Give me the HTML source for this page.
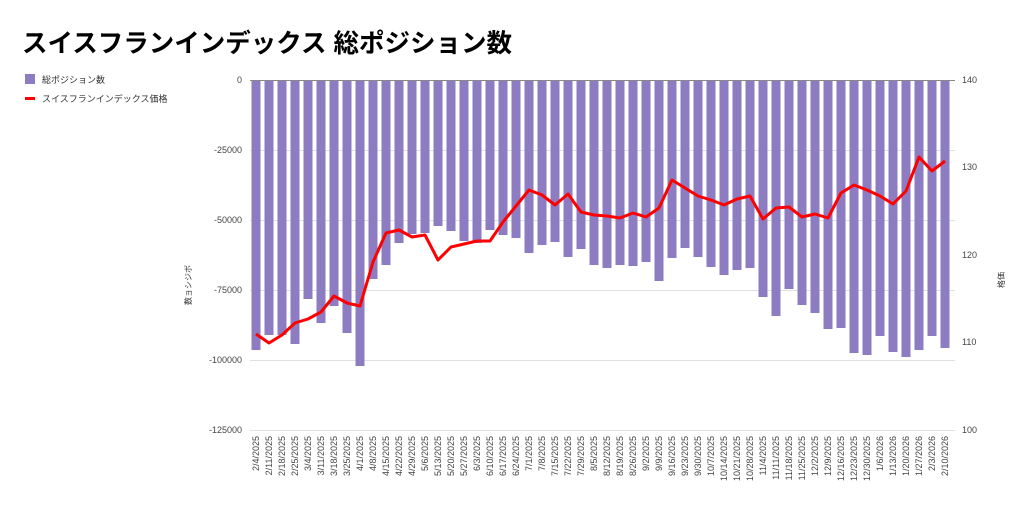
<!DOCTYPE html>
<html><head><meta charset="utf-8"><style>
body{margin:0;background:#fff;}
svg{display:block;font-family:"Liberation Sans","Noto Sans CJK JP",sans-serif;}
</style></head><body>
<svg width="1024" height="509" viewBox="0 0 1024 509">
<text x="22" y="52" font-size="25.5" font-weight="bold" fill="#000">スイスフランインデックス 総ポジション数</text>
<rect x="25" y="74" width="10" height="10" fill="#8e7cc3"/>
<text x="42" y="83" font-size="9" fill="#333">総ポジション数</text>
<rect x="25" y="97" width="10" height="3" fill="#f00"/>
<text x="42" y="102" font-size="9" fill="#333">スイスフランインデックス価格</text>
<g stroke="#e0e0e0" stroke-width="1">
<line x1="250" x2="955" y1="150.5" y2="150.5"/><line x1="250" x2="955" y1="220.5" y2="220.5"/><line x1="250" x2="955" y1="290.5" y2="290.5"/><line x1="250" x2="955" y1="360.5" y2="360.5"/><line x1="250" x2="955" y1="430.5" y2="430.5"/>
</g>
<g font-size="9" fill="#444" text-anchor="end">
<text x="242" y="83">0</text><text x="242" y="153">-25000</text><text x="242" y="223">-50000</text><text x="242" y="293">-75000</text><text x="242" y="363">-100000</text><text x="242" y="433">-125000</text>
</g>
<g font-size="9" fill="#444">
<text x="962" y="83">140</text><text x="962" y="170">130</text><text x="962" y="258">120</text><text x="962" y="345">110</text><text x="962" y="433">100</text>
</g>
<text transform="translate(191,285) rotate(-90)" font-size="8" fill="#333" text-anchor="middle">数ョシジボ</text>
<text transform="translate(1004,280) rotate(-90)" font-size="8" fill="#333" text-anchor="middle">格価</text>
<g fill="#8e7cc3">
<rect x="251.5" y="80" width="9" height="270"/><rect x="264.5" y="80" width="9" height="255"/><rect x="277.5" y="80" width="9" height="255"/><rect x="290.5" y="80" width="9" height="264"/><rect x="303.5" y="80" width="9" height="219"/><rect x="316.5" y="80" width="9" height="243"/><rect x="329.5" y="80" width="9" height="226"/><rect x="342.5" y="80" width="9" height="253"/><rect x="355.5" y="80" width="9" height="286"/><rect x="368.5" y="80" width="9" height="199"/><rect x="381.5" y="80" width="9" height="185"/><rect x="394.5" y="80" width="9" height="163"/><rect x="407.5" y="80" width="9" height="154"/><rect x="420.5" y="80" width="9" height="153"/><rect x="433.5" y="80" width="9" height="146"/><rect x="446.5" y="80" width="9" height="151"/><rect x="459.5" y="80" width="9" height="161"/><rect x="472.5" y="80" width="9" height="163"/><rect x="485.5" y="80" width="9" height="150"/><rect x="498.5" y="80" width="9" height="155"/><rect x="511.5" y="80" width="9" height="158"/><rect x="524.5" y="80" width="9" height="173"/><rect x="537.5" y="80" width="9" height="165"/><rect x="550.5" y="80" width="9" height="162"/><rect x="563.5" y="80" width="9" height="177"/><rect x="576.5" y="80" width="9" height="169"/><rect x="589.5" y="80" width="9" height="185"/><rect x="602.5" y="80" width="9" height="188"/><rect x="615.5" y="80" width="9" height="185"/><rect x="628.5" y="80" width="9" height="186"/><rect x="641.5" y="80" width="9" height="182"/><rect x="654.5" y="80" width="9" height="201"/><rect x="667.5" y="80" width="9" height="178"/><rect x="680.5" y="80" width="9" height="168"/><rect x="693.5" y="80" width="9" height="177"/><rect x="706.5" y="80" width="9" height="187"/><rect x="719.5" y="80" width="9" height="195"/><rect x="732.5" y="80" width="9" height="190"/><rect x="745.5" y="80" width="9" height="188"/><rect x="758.5" y="80" width="9" height="217"/><rect x="771.5" y="80" width="9" height="236"/><rect x="784.5" y="80" width="9" height="209"/><rect x="797.5" y="80" width="9" height="225"/><rect x="810.5" y="80" width="9" height="233"/><rect x="823.5" y="80" width="9" height="249"/><rect x="836.5" y="80" width="9" height="248"/><rect x="849.5" y="80" width="9" height="273"/><rect x="862.5" y="80" width="9" height="275"/><rect x="875.5" y="80" width="9" height="256"/><rect x="888.5" y="80" width="9" height="272"/><rect x="901.5" y="80" width="9" height="277"/><rect x="914.5" y="80" width="9" height="270"/><rect x="927.5" y="80" width="9" height="256"/><rect x="940.5" y="80" width="9" height="268"/>
</g>
<line x1="250" x2="955" y1="80.5" y2="80.5" stroke="#888" stroke-width="1"/>
<polyline fill="none" stroke="#f00" stroke-width="3" stroke-linejoin="round" points="256,334 269,343 282,335 295,323 308,319 321,312 334,296 347,303 360,306 373,262 386,233 399,230 412,237 425,235 438,260 451,247 464,244 477,241 490,241 503,222 516,206 529,190 542,195 555,205 568,194 581,212 594,215 607,216 620,218 633,213 646,217 659,208 672,180 685,188 698,196 711,200 724,205 737,199 750,196 763,219 776,208 789,207 802,217 815,214 828,218 841,193 854,185 867,190 880,196 893,204 906,191 919,157 932,171 945,161"/>
<g font-size="9" fill="#444" text-anchor="end">
<text transform="translate(259,436) rotate(-90)">2/4/2025</text><text transform="translate(272,436) rotate(-90)">2/11/2025</text><text transform="translate(285,436) rotate(-90)">2/18/2025</text><text transform="translate(298,436) rotate(-90)">2/25/2025</text><text transform="translate(311,436) rotate(-90)">3/4/2025</text><text transform="translate(324,436) rotate(-90)">3/11/2025</text><text transform="translate(337,436) rotate(-90)">3/18/2025</text><text transform="translate(350,436) rotate(-90)">3/25/2025</text><text transform="translate(363,436) rotate(-90)">4/1/2025</text><text transform="translate(376,436) rotate(-90)">4/8/2025</text><text transform="translate(389,436) rotate(-90)">4/15/2025</text><text transform="translate(402,436) rotate(-90)">4/22/2025</text><text transform="translate(415,436) rotate(-90)">4/29/2025</text><text transform="translate(428,436) rotate(-90)">5/6/2025</text><text transform="translate(441,436) rotate(-90)">5/13/2025</text><text transform="translate(454,436) rotate(-90)">5/20/2025</text><text transform="translate(467,436) rotate(-90)">5/27/2025</text><text transform="translate(480,436) rotate(-90)">6/3/2025</text><text transform="translate(493,436) rotate(-90)">6/10/2025</text><text transform="translate(506,436) rotate(-90)">6/17/2025</text><text transform="translate(519,436) rotate(-90)">6/24/2025</text><text transform="translate(532,436) rotate(-90)">7/1/2025</text><text transform="translate(545,436) rotate(-90)">7/8/2025</text><text transform="translate(558,436) rotate(-90)">7/15/2025</text><text transform="translate(571,436) rotate(-90)">7/22/2025</text><text transform="translate(584,436) rotate(-90)">7/29/2025</text><text transform="translate(597,436) rotate(-90)">8/5/2025</text><text transform="translate(610,436) rotate(-90)">8/12/2025</text><text transform="translate(623,436) rotate(-90)">8/19/2025</text><text transform="translate(636,436) rotate(-90)">8/26/2025</text><text transform="translate(649,436) rotate(-90)">9/2/2025</text><text transform="translate(662,436) rotate(-90)">9/9/2025</text><text transform="translate(675,436) rotate(-90)">9/16/2025</text><text transform="translate(688,436) rotate(-90)">9/23/2025</text><text transform="translate(701,436) rotate(-90)">9/30/2025</text><text transform="translate(714,436) rotate(-90)">10/7/2025</text><text transform="translate(727,436) rotate(-90)">10/14/2025</text><text transform="translate(740,436) rotate(-90)">10/21/2025</text><text transform="translate(753,436) rotate(-90)">10/28/2025</text><text transform="translate(766,436) rotate(-90)">11/4/2025</text><text transform="translate(779,436) rotate(-90)">11/11/2025</text><text transform="translate(792,436) rotate(-90)">11/18/2025</text><text transform="translate(805,436) rotate(-90)">11/25/2025</text><text transform="translate(818,436) rotate(-90)">12/2/2025</text><text transform="translate(831,436) rotate(-90)">12/9/2025</text><text transform="translate(844,436) rotate(-90)">12/16/2025</text><text transform="translate(857,436) rotate(-90)">12/23/2025</text><text transform="translate(870,436) rotate(-90)">12/30/2025</text><text transform="translate(883,436) rotate(-90)">1/6/2026</text><text transform="translate(896,436) rotate(-90)">1/13/2026</text><text transform="translate(909,436) rotate(-90)">1/20/2026</text><text transform="translate(922,436) rotate(-90)">1/27/2026</text><text transform="translate(935,436) rotate(-90)">2/3/2026</text><text transform="translate(948,436) rotate(-90)">2/10/2026</text>
</g>
</svg>
</body></html>
